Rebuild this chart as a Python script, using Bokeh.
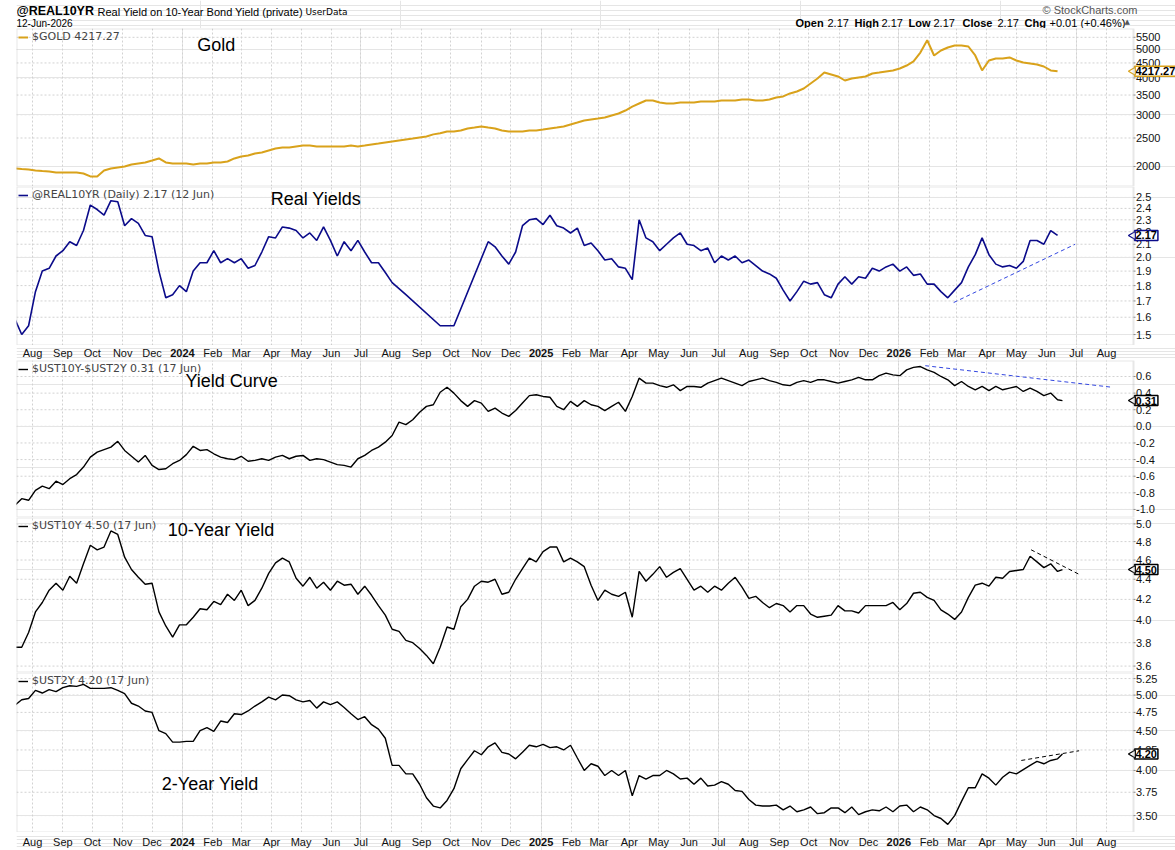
import math
import pandas as pd
from bokeh.plotting import figure
from bokeh.layouts import column
from bokeh.models import (Range1d, FixedTicker, Grid, Label, Legend, LegendItem,
                          ColumnDataSource, BoxAnnotation)
from bokeh.core.properties import value, field
from bokeh.embed import file_html
from bokeh.resources import INLINE

# ---------------------------------------------------------------- data
# weekly closes, 14 Jul 2023 .. 12 Jun 2026; the rate series add a 17 Jun print
week_start = "2023-07-14"
n_weeks = 153
last_rate_day = "2026-06-17"

gold = [1969, 1960, 1953, 1938, 1930, 1923, 1908, 1908, 1908, 1908,
        1893, 1850, 1850, 1938, 1969, 1985, 2000, 2032, 2048, 2064,
        2096, 2130, 2064, 2048, 2048, 2048, 2032, 2048, 2048, 2064,
        2064, 2080, 2130, 2163, 2180, 2214, 2232, 2267, 2302, 2320,
        2320, 2340, 2358, 2358, 2340, 2340, 2340, 2340, 2340, 2358,
        2340, 2358, 2377, 2395, 2414, 2433, 2452, 2471, 2490, 2510,
        2530, 2572, 2593, 2630, 2630, 2651, 2694, 2715, 2737, 2715,
        2694, 2651, 2630, 2630, 2630, 2651, 2651, 2672, 2694, 2715,
        2737, 2779, 2822, 2867, 2890, 2912, 2935, 2981, 3028, 3100,
        3198, 3276, 3353, 3353, 3302, 3276, 3276, 3302, 3302, 3302,
        3328, 3328, 3328, 3353, 3353, 3353, 3380, 3380, 3353, 3353,
        3380, 3434, 3462, 3544, 3599, 3684, 3832, 3982, 4175, 4111,
        4047, 3922, 3982, 4016, 4047, 4143, 4175, 4209, 4243, 4309,
        4410, 4553, 4880, 5375, 4771, 4960, 5078, 5158, 5158, 5118,
        4771, 4243, 4588, 4660, 4660, 4698, 4588, 4517, 4482, 4447,
        4376, 4243, 4217.27]

# None = no print that week (the private series has a gap in late 2024)
real10 = [1.59, 1.50, 1.55, 1.76, 1.90, 1.92, 2.01, 2.05, 2.12, 2.09,
          2.21, 2.43, 2.39, 2.34, 2.47, 2.46, 2.25, 2.31, 2.27, 2.17,
          2.16, 1.90, 1.72, 1.74, 1.80, 1.76, 1.90, 1.96, 1.96, 2.05,
          1.96, 1.99, 1.96, 1.99, 1.92, 1.94, 2.04, 2.16, 2.15, 2.24,
          2.23, 2.21, 2.15, 2.19, 2.13, 2.24, 2.13, 2.01, 2.12, 2.05,
          2.13, 2.04, 1.96, 1.96, 1.89, 1.82, 1.78, 1.74, None, None,
          None, None, 1.55, None, 1.55, None, None, None, None, 2.12,
          2.08, 2.01, 1.95, 2.04, 2.25, 2.30, 2.31, 2.26, 2.34, 2.25,
          2.23, 2.19, 2.23, 2.09, 2.11, 2.05, 1.98, 1.99, 1.93, 1.92,
          1.84, 2.30, 2.15, 2.12, 2.05, 2.10, 2.15, 2.19, 2.10, 2.09,
          2.05, 2.07, 1.96, 2.01, 1.98, 2.01, 1.96, 1.98, 1.94, 1.90,
          1.88, 1.85, 1.77, 1.70, 1.76, 1.83, 1.81, 1.82, 1.74, 1.72,
          1.81, 1.86, 1.81, 1.86, 1.85, 1.92, 1.90, 1.93, 1.95, 1.90,
          1.93, 1.87, 1.88, 1.81, 1.81, 1.76, 1.72, 1.77, 1.82, 1.93,
          2.02, 2.15, 2.02, 1.95, 1.93, 1.94, 1.92, 1.97, 2.13, 2.13,
          2.10, 2.21, 2.17]

curve = [-0.95, -0.87, -0.89, -0.77, -0.72, -0.75, -0.66, -0.70, -0.63, -0.58,
         -0.49, -0.37, -0.31, -0.28, -0.25, -0.18, -0.29, -0.36, -0.43, -0.35,
         -0.47, -0.52, -0.51, -0.45, -0.41, -0.34, -0.24, -0.29, -0.28, -0.33,
         -0.37, -0.39, -0.40, -0.36, -0.42, -0.41, -0.39, -0.41, -0.37, -0.35,
         -0.39, -0.36, -0.35, -0.41, -0.39, -0.40, -0.43, -0.46, -0.47, -0.49,
         -0.39, -0.35, -0.29, -0.25, -0.19, -0.11, 0.05, 0.02, 0.08, 0.17,
         0.24, 0.26, 0.41, 0.47, 0.40, 0.31, 0.24, 0.31, 0.28, 0.18,
         0.22, 0.16, 0.12, 0.19, 0.28, 0.37, 0.38, 0.36, 0.35, 0.24,
         0.20, 0.30, 0.24, 0.31, 0.26, 0.24, 0.19, 0.24, 0.29, 0.18,
         0.36, 0.58, 0.52, 0.52, 0.49, 0.47, 0.50, 0.43, 0.48, 0.48,
         0.47, 0.52, 0.55, 0.58, 0.55, 0.52, 0.49, 0.54, 0.56, 0.58,
         0.55, 0.53, 0.50, 0.49, 0.53, 0.55, 0.53, 0.56, 0.56, 0.54,
         0.52, 0.54, 0.56, 0.59, 0.56, 0.56, 0.61, 0.64, 0.62, 0.61,
         0.68, 0.71, 0.72, 0.68, 0.65, 0.60, 0.56, 0.49, 0.54, 0.48,
         0.44, 0.48, 0.43, 0.48, 0.44, 0.46, 0.48, 0.42, 0.46, 0.42,
         0.37, 0.40, 0.32, 0.31]

ust10 = [3.76, 3.76, 3.89, 4.08, 4.17, 4.29, 4.36, 4.29, 4.43, 4.36,
         4.56, 4.76, 4.71, 4.74, 4.92, 4.88, 4.63, 4.50, 4.42, 4.35,
         4.36, 4.08, 3.95, 3.85, 3.96, 3.96, 4.03, 4.11, 4.10, 4.18,
         4.15, 4.25, 4.19, 4.29, 4.14, 4.19, 4.31, 4.46, 4.57, 4.62,
         4.58, 4.41, 4.33, 4.42, 4.31, 4.37, 4.29, 4.38, 4.34, 4.35,
         4.25, 4.33, 4.24, 4.14, 4.05, 3.92, 3.90, 3.82, 3.80, 3.75,
         3.69, 3.62, 3.76, 3.94, 3.92, 4.13, 4.20, 4.33, 4.38, 4.37,
         4.40, 4.25, 4.27, 4.40, 4.51, 4.62, 4.58, 4.69, 4.74, 4.74,
         4.58, 4.62, 4.58, 4.53, 4.34, 4.19, 4.29, 4.25, 4.23, 4.27,
         4.03, 4.48, 4.38, 4.45, 4.53, 4.42, 4.47, 4.51, 4.40, 4.29,
         4.33, 4.27, 4.33, 4.29, 4.36, 4.42, 4.32, 4.21, 4.23, 4.17,
         4.12, 4.16, 4.14, 4.08, 4.14, 4.14, 4.06, 4.03, 4.04, 4.05,
         4.14, 4.09, 4.09, 4.07, 4.14, 4.14, 4.14, 4.14, 4.17, 4.10,
         4.16, 4.26, 4.27, 4.22, 4.19, 4.10, 4.06, 4.01, 4.08, 4.22,
         4.34, 4.36, 4.33, 4.42, 4.41, 4.48, 4.49, 4.50, 4.64, 4.58,
         4.52, 4.56, 4.48, 4.50]

ust2 = [4.85, 4.93, 4.95, 5.07, 5.03, 5.08, 5.05, 5.11, 5.14, 5.13,
        5.16, 5.10, 5.10, 5.10, 5.11, 5.07, 5.02, 4.88, 4.84, 4.77,
        4.75, 4.50, 4.46, 4.35, 4.35, 4.36, 4.36, 4.50, 4.54, 4.49,
        4.63, 4.61, 4.73, 4.72, 4.77, 4.84, 4.90, 4.97, 4.93, 5.00,
        4.99, 4.93, 4.90, 4.92, 4.81, 4.90, 4.86, 4.90, 4.82, 4.73,
        4.65, 4.69, 4.58, 4.52, 4.40, 4.06, 4.06, 3.96, 3.96, 3.84,
        3.69, 3.60, 3.58, 3.66, 3.79, 4.02, 4.13, 4.24, 4.19, 4.29,
        4.34, 4.22, 4.20, 4.14, 4.22, 4.31, 4.29, 4.32, 4.28, 4.29,
        4.25, 4.31, 4.15, 4.00, 4.08, 4.05, 3.94, 4.00, 3.94, 4.00,
        3.71, 3.94, 3.90, 3.94, 3.94, 4.00, 3.96, 3.90, 3.91, 3.84,
        3.91, 3.82, 3.83, 3.87, 3.84, 3.77, 3.76, 3.67, 3.61, 3.60,
        3.60, 3.61, 3.56, 3.60, 3.54, 3.56, 3.59, 3.52, 3.53, 3.58,
        3.58, 3.53, 3.59, 3.51, 3.54, 3.56, 3.55, 3.59, 3.54, 3.60,
        3.61, 3.54, 3.59, 3.56, 3.50, 3.47, 3.41, 3.50, 3.65, 3.80,
        3.80, 3.96, 3.91, 3.83, 3.92, 3.98, 3.96, 4.01, 4.06, 4.11,
        4.08, 4.12, 4.14, 4.20]

# hand-drawn trend lines: (start date, end date), (start value, end value)
real_trend_dates = ["2026-02-26", "2026-06-30"]
real_trend_vals = [1.69, 2.10]
curve_trend_dates = ["2026-01-28", "2026-08-07"]
curve_trend_vals = [0.73, 0.47]
ust10_trend_dates = ["2026-05-16", "2026-07-04"]
ust10_trend_vals = [4.71, 4.45]
ust2_trend_dates = ["2026-05-06", "2026-07-04"]
ust2_trend_vals = [4.12, 4.24]

# price-axis ticks
gold_ticks = [2000, 2500, 3000, 3500, 4000, 4500, 5000, 5500]
real_ticks = [1.5, 1.6, 1.7, 1.8, 1.9, 2.0, 2.1, 2.2, 2.3, 2.4, 2.5]
curve_ticks = [-1.0, -0.8, -0.6, -0.4, -0.2, 0.0, 0.2, 0.4, 0.6]
ust10_ticks = [3.6, 3.8, 4.0, 4.2, 4.4, 4.6, 4.8, 5.0]
ust2_ticks = [3.50, 3.75, 4.00, 4.25, 4.50, 4.75, 5.00, 5.25]

month_labels = ["Aug", "Sep", "Oct", "Nov", "Dec",
                "2024", "Feb", "Mar", "Apr", "May", "Jun", "Jul", "Aug", "Sep", "Oct", "Nov", "Dec",
                "2025", "Feb", "Mar", "Apr", "May", "Jun", "Jul", "Aug", "Sep", "Oct", "Nov", "Dec",
                "2026", "Feb", "Mar", "Apr", "May", "Jun", "Jul", "Aug"]
month_starts = pd.date_range("2023-08-01", "2026-08-01", freq="MS")

# ---------------------------------------------------------------- geometry
W = 1175
LEFT = 16          # left margin of every panel
PLOT_W = 1117      # width of the price area; the price scale sits to its right
FRAME_W = W - LEFT
GRID = "#d2d2d2"
FRAME = "#b0b0b0"
GOLD = "#D9A21B"
NAVY = "#0B0B8A"

X0 = pd.Timestamp("2023-07-15 16:00")
X1 = pd.Timestamp("2026-08-28 12:00")
PX = (X1 - X0) / PLOT_W                      # time per screen pixel
xr = Range1d(start=X0, end=X0 + PX * FRAME_W)

weeks = pd.date_range(week_start, periods=n_weeks, freq="7D")
rate_days = list(weeks) + [pd.Timestamp(last_rate_day)]


def ms(t):
    return pd.Timestamp(t).value / 1e6


def make_panel(height, lo, hi, log, ticks, fmt):
    p = figure(width=W, height=height, x_range=xr, y_range=Range1d(lo, hi),
               y_axis_type="log" if log else "linear",
               x_axis_location=None, y_axis_location=None,
               toolbar_location=None, output_backend="svg",
               min_border_left=LEFT, min_border_right=0,
               min_border_top=0, min_border_bottom=0)
    p.outline_line_color = None
    p.background_fill_color = "white"
    p.border_fill_color = "white"
    # vertical month grid
    p.add_layout(Grid(dimension=0, ticker=FixedTicker(ticks=[ms(d) for d in month_starts]),
                      grid_line_color=GRID, grid_line_dash="2 2"))
    n = len(ticks)
    # horizontal grid, stopping at the price scale
    p.segment(x0=[X0] * n, x1=[X1] * n, y0=ticks, y1=ticks,
              line_color=GRID, line_dash="2 2", line_width=1, level="underlay")
    # price scale: tick marks and labels
    p.segment(x0=[X1] * n, x1=[X1 + PX * 2] * n, y0=ticks, y1=ticks,
              line_color="#888888", line_width=1)
    p.text(x=[X1 + PX * 2.5] * n, y=ticks, text=[fmt.format(t) for t in ticks],
           text_font=value("Liberation Sans"), text_font_size=value("11px"),
           text_align="left", text_baseline="middle", text_color="#111111")
    # panel frame
    p.add_layout(BoxAnnotation(left=ms(X0), right=ms(X1), fill_color=None, fill_alpha=0,
                               line_color=FRAME, line_width=2, level="overlay"))
    return p


def add_legend(p, r, text):
    p.add_layout(Legend(items=[LegendItem(label=value(text), renderers=[r])],
                        location="top_left", margin=2, padding=0, spacing=0,
                        border_line_color=None, background_fill_alpha=0,
                        label_text_font="DejaVu Sans", label_text_font_size="11px",
                        label_height=10, glyph_height=10, glyph_width=10,
                        label_standoff=4))


def add_title(p, date, yv, text):
    p.add_layout(Label(x=ms(date), y=yv, text=text, text_font="Liberation Sans",
                       text_font_size="18px", text_baseline="middle", text_align="left",
                       text_color="#000000"))


def add_box(p, yv, text, color):
    # last-value tag on the price scale
    p.scatter(x=[X1 - PX * 0.5], y=[yv], marker="triangle", angle=math.pi / 2, size=8,
              fill_color="white", line_color=color, line_width=1.2, level="overlay")
    p.add_layout(Label(x=ms(X1 + PX * 1), y=yv, text=text, text_font="Liberation Sans",
                       text_font_size="11px", text_font_style="bold",
                       text_baseline="middle", text_align="left", text_color="#000000",
                       border_line_color=color, border_line_width=1.5,
                       background_fill_color="white", padding=1))


def month_strip(height):
    s = figure(width=W, height=height, x_range=xr, y_range=Range1d(0, 1),
               x_axis_location=None, y_axis_location=None,
               toolbar_location=None, output_backend="svg",
               min_border_left=LEFT, min_border_right=0, min_border_top=0, min_border_bottom=0)
    s.outline_line_color = None
    src = ColumnDataSource(dict(
        x=month_starts, y=[0.5] * len(month_starts), t=month_labels,
        style=["bold" if t.isdigit() else "normal" for t in month_labels]))
    s.text(x="x", y="y", text="t", source=src, text_font=value("Liberation Sans"),
           text_font_size=value("11px"), text_font_style=field("style"),
           text_align="center", text_baseline="middle", text_color="#111111")
    return s


# ---------------------------------------------------------------- header
hdr = figure(width=W, height=28, x_range=Range1d(LEFT, W), y_range=Range1d(28, 0),
             toolbar_location=None, output_backend="svg",
             min_border_left=LEFT, min_border_right=0, min_border_top=0, min_border_bottom=0,
             x_axis_location=None, y_axis_location=None)
hdr.outline_line_color = None
hsrc = ColumnDataSource(dict(
    x=[16, 97, 305, 16, 1042,
       795, 827, 854, 881, 908, 933, 962, 997, 1024, 1049, 1124],
    y=[10, 11, 11, 23, 9,
       22, 22, 22, 22, 22, 22, 22, 22, 22, 22, 21],
    t=["@REAL10YR", "Real Yield on 10-Year Bond Yield (private)", "UserData", "12-Jun-2026",
       "\u00a9 StockCharts.com",
       "Open", "2.17", "High", "2.17", "Low", "2.17", "Close", "2.17", "Chg",
       "+0.01 (+0.46%)", "\u25b2"],
    size=["12.5px", "11px", "9px", "10px", "11px",
          "11px", "11px", "11px", "11px", "11px", "11px", "11px", "11px", "11px", "11px", "7px"],
    style=["bold", "normal", "normal", "normal", "normal",
           "bold", "normal", "bold", "normal", "bold", "normal", "bold", "normal", "bold",
           "normal", "normal"],
    font=["Liberation Sans", "Liberation Sans", "DejaVu Sans", "Liberation Sans",
          "Liberation Sans",
          "Liberation Sans", "Liberation Sans", "Liberation Sans", "Liberation Sans",
          "Liberation Sans", "Liberation Sans", "Liberation Sans", "Liberation Sans",
          "Liberation Sans", "Liberation Sans", "DejaVu Sans"],
    color=["#000000", "#000000", "#000000", "#000000", "#555555",
           "#000000", "#000000", "#000000", "#000000", "#000000", "#000000", "#000000",
           "#000000", "#000000", "#000000", "#555555"]))
hdr.text(x="x", y="y", text="t", source=hsrc, text_font=field("font"),
         text_font_size=field("size"), text_font_style=field("style"),
         text_color=field("color"), text_baseline="middle", text_align="left")

# ---------------------------------------------------------------- gold
p1 = make_panel(158, 1710, 5893, True, gold_ticks, "{:.0f}")
r1 = p1.line(weeks, gold, line_color=GOLD, line_width=2)
add_legend(p1, r1, "$GOLD 4217.27")
add_title(p1, "2024-01-16", 5160, "Gold")
add_box(p1, gold[-1], "4217.27", GOLD)

# ---------------------------------------------------------------- real yields
p2 = make_panel(159, 1.440, 2.604, True, real_ticks, "{:.1f}")
rx = [d for d, v in zip(weeks, real10) if v is not None]
ry = [v for v in real10 if v is not None]
r2 = p2.line(rx, ry, line_color=NAVY, line_width=1.6)
p2.line(pd.to_datetime(real_trend_dates), real_trend_vals, line_color="#3347e0",
        line_width=1, line_dash="4 3")
add_legend(p2, r2, "@REAL10YR (Daily) 2.17 (12 Jun)")
add_title(p2, "2024-03-31", 2.49, "Real Yields")
add_box(p2, ry[-1], "2.17", NAVY)

s1 = month_strip(15)

# ---------------------------------------------------------------- yield curve
p3 = make_panel(157, -1.097, 0.7925, False, curve_ticks, "{:.1f}")
r3 = p3.line(rate_days, curve, line_color="#000000", line_width=1.4)
p3.line(pd.to_datetime(curve_trend_dates), curve_trend_vals, line_color="#3347e0",
        line_width=1, line_dash="4 3")
add_legend(p3, r3, "$UST10Y-$UST2Y 0.31 (17 Jun)")
add_title(p3, "2024-01-04", 0.55, "Yield Curve")
add_box(p3, curve[-1], "0.31", "#000000")

# ---------------------------------------------------------------- 10-year
p4 = make_panel(155, 3.547, 5.075, True, ust10_ticks, "{:.1f}")
r4 = p4.line(rate_days, ust10, line_color="#000000", line_width=1.4)
p4.line(pd.to_datetime(ust10_trend_dates), ust10_trend_vals, line_color="#000000",
        line_width=1, line_dash="4 3")
add_legend(p4, r4, "$UST10Y 4.50 (17 Jun)")
add_title(p4, "2023-12-17", 4.93, "10-Year Yield")
add_box(p4, ust10[-1], "4.50", "#000000")

# ---------------------------------------------------------------- 2-year
p5 = make_panel(160, 3.329, 5.345, True, ust2_ticks, "{:.2f}")
r5 = p5.line(rate_days, ust2, line_color="#000000", line_width=1.4)
p5.line(pd.to_datetime(ust2_trend_dates), ust2_trend_vals, line_color="#000000",
        line_width=1, line_dash="4 3")
add_legend(p5, r5, "$UST2Y 4.20 (17 Jun)")
add_title(p5, "2023-12-11", 3.84, "2-Year Yield")
add_box(p5, ust2[-1], "4.20", "#000000")

s2 = month_strip(18)

layout = column(hdr, p1, p2, s1, p3, p4, p5, s2, spacing=0)
open("out.html", "w").write(file_html(layout, INLINE))
